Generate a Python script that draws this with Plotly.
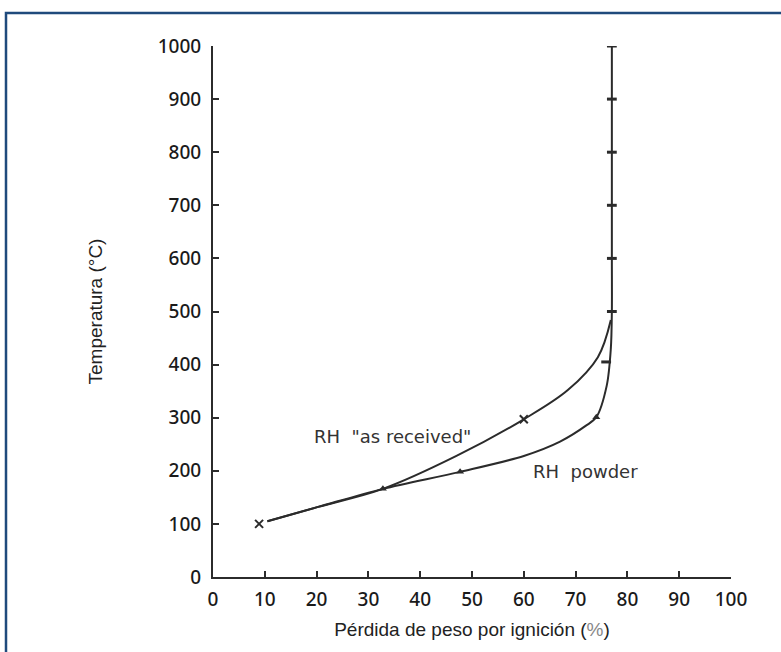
import plotly.graph_objects as go

# ---- data ----
x_ticks = [0, 10, 20, 30, 40, 50, 60, 70, 80, 90, 100]
y_ticks = [0, 100, 200, 300, 400, 500, 600, 700, 800, 900, 1000]

received_loss = [10.5, 20.3, 32.8, 47.0, 60.0, 68.5, 74.3, 76.8]
received_temp = [105, 132, 166, 228, 297, 352, 414, 484]
received_mark_loss = [8.9, 60.0]
received_mark_temp = [100, 297]

powder_loss = [10.5, 20.3, 32.8, 47.7, 60.0, 67.0, 72.0, 74.0, 76.0, 76.8, 77.0, 77.0, 77.0, 77.0, 77.0, 77.0]
powder_temp = [105, 132, 166, 198, 228, 255, 285, 301, 360, 430, 500, 600, 700, 800, 900, 1000]
powder_tri_loss = [32.8, 47.7, 74.0]
powder_tri_temp = [166, 198, 301]
powder_dash_loss = [75.9, 77.0, 77.0, 77.0, 77.0, 77.0, 77.0]
powder_dash_temp = [405, 500, 600, 700, 800, 900, 1000]

ink = "#2b2b2b"

fig = go.Figure()
fig.add_trace(go.Scatter(x=received_loss, y=received_temp, mode="lines",
                         line=dict(color=ink, width=2, shape="spline", smoothing=1.0),
                         hoverinfo="skip", name='RH "as received"'))
fig.add_trace(go.Scatter(x=powder_loss, y=powder_temp, mode="lines",
                         line=dict(color=ink, width=2, shape="spline", smoothing=0.9),
                         hoverinfo="skip", name="RH powder"))
fig.add_trace(go.Scatter(x=received_mark_loss, y=received_mark_temp, mode="markers",
                         marker=dict(symbol="x-thin", size=8, line=dict(color=ink, width=2)),
                         name="as received pts"))
fig.add_trace(go.Scatter(x=powder_tri_loss, y=powder_tri_temp, mode="markers",
                         marker=dict(symbol="triangle-up", size=7, color=ink),
                         name="powder pts"))
fig.add_trace(go.Scatter(x=powder_dash_loss, y=powder_dash_temp, mode="markers",
                         marker=dict(symbol="line-ew", size=7, line=dict(color=ink, width=3)),
                         name="powder pts 2"))

fig.add_annotation(x=34.6, y=264, text='RH  "as received"', showarrow=False,
                   xanchor="center", yanchor="middle",
                   font=dict(family="DejaVu Sans", size=18, color="#333"))
fig.add_annotation(x=72.0, y=198, text="RH&nbsp;&nbsp;powder", showarrow=False,
                   xanchor="center", yanchor="middle",
                   font=dict(family="DejaVu Sans", size=18, color="#333"))

# figure border (decoration)
L, T, W, H = 213, 46, 518, 531
def px(v): return (v - L) / W
def py(v): return (T + H - v) / H
fig.add_shape(type="rect", xref="paper", yref="paper",
              x0=px(6), x1=px(790), y0=py(13), y1=py(665),
              line=dict(color="#1f4a7c", width=2.5), fillcolor="rgba(0,0,0,0)", layer="below")

fig.update_layout(
    width=781, height=652,
    margin=dict(l=213, r=50, t=46, b=75),
    paper_bgcolor="white", plot_bgcolor="white",
    showlegend=False,
)
fig.update_xaxes(range=[0, 100], tickvals=x_ticks, ticktext=[str(v) for v in x_ticks],
                 showgrid=False, zeroline=False, showline=True, linecolor=ink, linewidth=2,
                 ticks="inside", ticklen=6, tickwidth=2, tickcolor=ink, ticklabelstandoff=4,
                 tickfont=dict(family="Noto Sans", size=19, color="#1a1a1a", weight=500),
                 title=dict(text="Pérdida de peso por ignición (<span style='color:#888'>%</span>)",
                            font=dict(family="Liberation Sans", size=19, color="#222"), standoff=12))
fig.update_yaxes(range=[0, 1000], tickvals=y_ticks, ticktext=[str(v) for v in y_ticks],
                 showgrid=False, zeroline=False, showline=True, linecolor=ink, linewidth=2,
                 ticks="inside", ticklen=6, tickwidth=2, tickcolor=ink, ticklabelstandoff=6,
                 tickfont=dict(family="Noto Sans", size=19, color="#1a1a1a", weight=500),
                 title=dict(text="Temperatura (°C)",
                            font=dict(family="Liberation Sans", size=19, color="#222"), standoff=50))

fig.write_html("out.html")
